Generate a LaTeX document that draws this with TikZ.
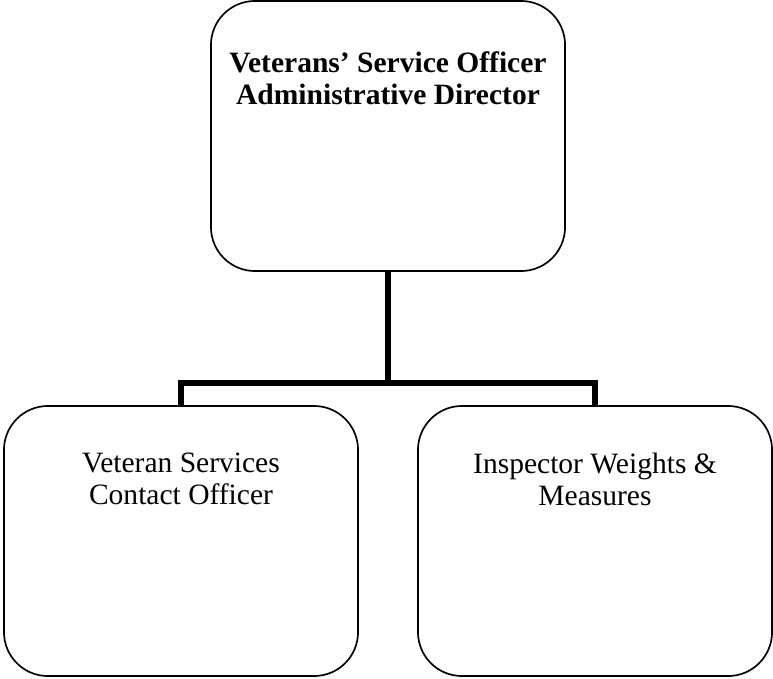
\documentclass[tikz,border=0pt]{standalone}
\usepackage{fontspec}
\setmainfont{Liberation Serif}
\usetikzlibrary{positioning}

\begin{document}
\begin{tikzpicture}[x=0.025cm, y=-0.025cm,
    box/.style={draw, line width=1.2pt, rounded corners=1.1cm,
        minimum width=8.85cm, minimum height=6.75cm, inner sep=0pt},
    lbl/.style={align=center, anchor=north, inner sep=0pt,
        font=\fontsize{21}{22.8}\selectfont},
    lblbold/.style={lbl, font=\fontsize{21}{22.8}\selectfont\bfseries},
    link/.style={line width=3.6pt}]
    % Rahmen
    \useasboundingbox (0,0) rectangle (773,678);

    % Kaesten
    \node[box] (dir) at (388,136) {};
    \node[box] (vsco) at (181,541) {};
    \node[box] (iwm) at (595,541) {};

    % Beschriftungen
    \node[lblbold] (dirtxt) at (388,51) {Veterans' Service Officer\\Administrative Director};
    \node[lbl] (vscotxt) at (181,453) {Veteran Services\\Contact Officer};
    \node[lbl] (iwmtxt) at (595,453) {Inspector Weights \&\\Measures};

    % Verbindungen
    \coordinate (bar) at (388,383);
    \draw[link] (dir.south) -- (bar);
    \draw[link] (vsco.north) |- (bar) -| (iwm.north);

\end{tikzpicture}
\end{document}
